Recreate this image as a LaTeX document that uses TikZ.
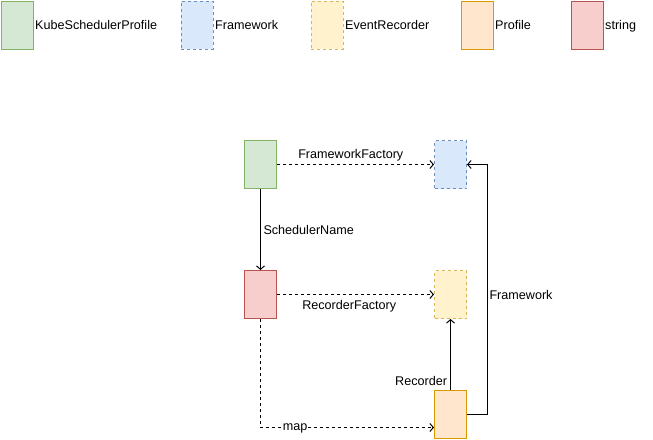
\documentclass[tikz,border=0pt]{standalone}
\usepackage{fontspec}
\setmainfont{Liberation Sans}
\usetikzlibrary{arrows.meta}

\definecolor{kubefill}{HTML}{D5E8D4}
\definecolor{kubeline}{HTML}{82B366}
\definecolor{fwfill}{HTML}{DAE8FC}
\definecolor{fwline}{HTML}{6C8EBF}
\definecolor{recfill}{HTML}{FFF2CC}
\definecolor{recline}{HTML}{D6B656}
\definecolor{proffill}{HTML}{FFE6CC}
\definecolor{profline}{HTML}{D79B00}
\definecolor{strfill}{HTML}{F8CECC}
\definecolor{strline}{HTML}{B85450}

\newcommand{\edgefont}{\fontsize{12.6}{15}\selectfont}

\begin{document}
\begin{tikzpicture}[x=1pt, y=-1pt,
        every node/.style={font=\edgefont},
        box/.style={draw, line width=1pt, minimum width=32pt, minimum height=48pt, inner sep=0pt, anchor=north west},
        kubebox/.style={fill=kubefill, draw=kubeline},
        fwbox/.style={fill=fwfill, draw=fwline, dash pattern=on 3pt off 3pt},
        recbox/.style={fill=recfill, draw=recline, dash pattern=on 3pt off 3pt},
        profbox/.style={fill=proffill, draw=profline},
        strbox/.style={fill=strfill, draw=strline},
        leg/.style={anchor=west, inner sep=1.5pt, text height=9pt, text depth=0pt},
        link/.style={line width=1pt, -{Straight Barb[length=3.5pt,width=8pt]}},
        dashlink/.style={link, dash pattern=on 3pt off 3pt},
    ]
    \useasboundingbox (0,0) rectangle (653,439);

    % legend
    \node[box, kubebox] (legkube) at (0.5,0.5) {};
    \node[leg] at (legkube.east) {KubeSchedulerProfile};
    \node[box, fwbox] (legfw) at (180.5,0.5) {};
    \node[leg] at (legfw.east) {Framework};
    \node[box, recbox] (legrec) at (310.5,0.5) {};
    \node[leg] at (legrec.east) {EventRecorder};
    \node[box, profbox] (legprof) at (460.5,0.5) {};
    \node[leg] at (legprof.east) {Profile};
    \node[box, strbox] (legstr) at (570.5,0.5) {};
    \node[leg] at (legstr.east) {string};

    % objects
    \node[box, kubebox] (kube) at (244,140) {};
    \node[box, fwbox] (fw) at (434,140) {};
    \node[box, strbox] (str) at (244,270) {};
    \node[box, recbox] (rec) at (434,270) {};
    \node[box, profbox] (prof) at (434,390) {};
    \coordinate (mapin) at ([yshift=-13pt]prof.west);

    \draw[dashlink] (kube) -- (fw) node[pos=0.47, above, inner sep=2.5pt] {FrameworkFactory};
    \draw[link] (kube) -- (str) node[midway, right, inner sep=2.5pt] {SchedulerName};
    \draw[dashlink] (str) -- (rec) node[pos=0.46, below, inner sep=5pt] {RecorderFactory};
    \draw[dashlink] (str) |- (mapin) node[pos=0.6, fill=white, inner sep=1pt, text height=6.5pt, text depth=0pt] {map};
    \draw[link] (prof) -- (rec) node[pos=0.12, left, inner sep=3pt] {Recorder};
    \draw[link] (prof.east) -- ++(20,0) |- (fw.east) node[pos=0.24, right, inner sep=2pt] {Framework};
\end{tikzpicture}
\end{document}
